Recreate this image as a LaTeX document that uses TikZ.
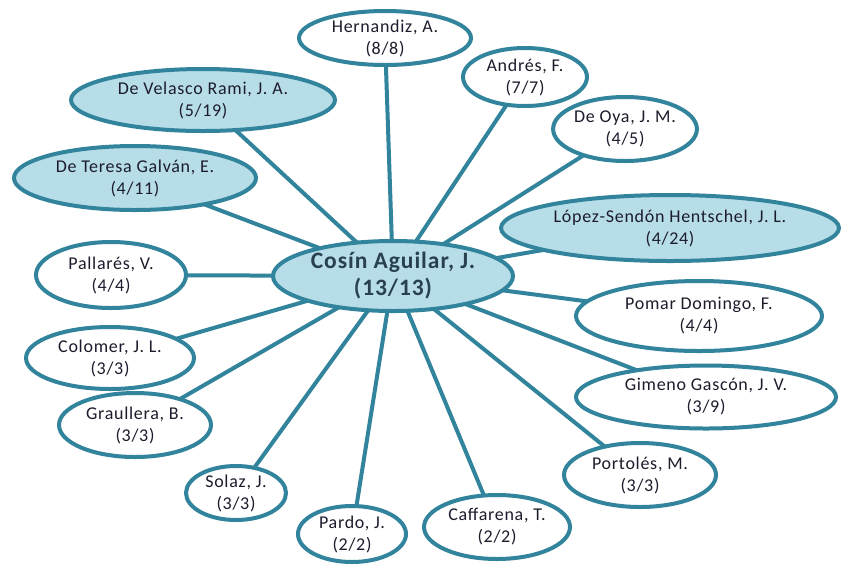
\documentclass[tikz,border=0pt]{standalone}
\usepackage{fontspec}
\setmainfont{Carlito}[LetterSpace=4]
\usetikzlibrary{shapes.geometric,backgrounds}
\definecolor{ringblue}{RGB}{49,132,155}
\definecolor{paleblue}{RGB}{183,221,232}
\definecolor{inkdark}{RGB}{28,28,45}
\definecolor{hubink}{RGB}{40,64,80}
\tikzset{
  person/.style={ellipse, draw=ringblue, line width=4pt, fill=white, inner sep=0pt,
    align=center, text=inkdark, font=\fontsize{18}{22}\selectfont},
  lead/.style={person, fill=paleblue},
  hub/.style={person, fill=paleblue, text=hubink, font=\fontsize{23.5}{27}\selectfont\bfseries},
  link/.style={draw=ringblue, line width=4pt}
}
\begin{document}
\begin{tikzpicture}[x=1pt,y=-1pt]
\useasboundingbox (0,0) rectangle (841,566);

% central author
\node[hub, minimum width=240pt, minimum height=70pt] (hub) at (393,276) {Cosín Aguilar, J.\\(13/13)};

% co-authors, clockwise from the top
\node[person, minimum width=172pt, minimum height=54pt] (hern) at (385,38) {Hernandiz, A.\\(8/8)};
\node[person, minimum width=124pt, minimum height=58pt] (andr) at (525,77) {Andrés, F.\\(7/7)};
\node[person, minimum width=142pt, minimum height=64pt] (oya) at (625,129) {De Oya, J. M.\\(4/5)};
\node[lead, minimum width=338pt, minimum height=66pt] (lopez) at (670,228) {López-Sendón Hentschel, J. L.\\(4/24)};
\node[person, minimum width=246pt, minimum height=70pt] (pomar) at (699,316) {Pomar Domingo, F.\\(4/4)};
\node[person, minimum width=260pt, minimum height=63pt] (gimeno) at (706,397) {Gimeno Gascón, J. V.\\(3/9)};
\node[person, minimum width=152pt, minimum height=64pt] (portoles) at (640,475) {Portolés, M.\\(3/3)};
\node[person, minimum width=146pt, minimum height=64pt] (caff) at (497,527) {Caffarena, T.\\(2/2)};
\node[person, minimum width=108pt, minimum height=56pt] (pardo) at (352,534) {Pardo, J.\\(2/2)};
\node[person, minimum width=100pt, minimum height=54pt] (solaz) at (236,493) {Solaz, J.\\(3/3)};
\node[person, minimum width=152pt, minimum height=64pt] (graul) at (135,425) {Graullera, B.\\(3/3)};
\node[person, minimum width=168pt, minimum height=62pt] (colomer) at (110,358) {Colomer, J. L.\\(3/3)};
\node[person, minimum width=150pt, minimum height=66pt] (pallares) at (111,275) {Pallarés, V.\\(4/4)};
\node[lead, minimum width=242pt, minimum height=64pt] (teresa) at (135,178) {De Teresa Galván, E.\\(4/11)};
\node[lead, minimum width=264pt, minimum height=62pt] (velasco) at (203,100) {De Velasco Rami, J. A.\\(5/19)};

% white page, then the links to the central author, all behind the ellipses
\begin{scope}[on background layer]
\fill[white] (0,0) rectangle (841,566);
\foreach \n in {hern,andr,oya,lopez,pomar,gimeno,portoles,caff,pardo,solaz,graul,colomer,pallares,teresa,velasco}
  \draw[link] (hub.center) -- (\n.center);
\end{scope}
\end{tikzpicture}
\end{document}
